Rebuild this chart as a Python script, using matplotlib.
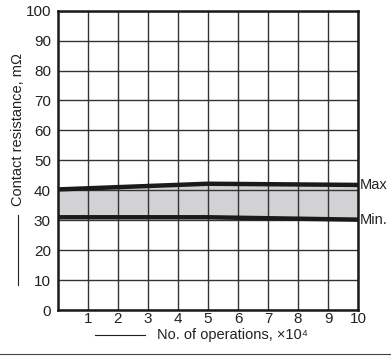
import numpy as np
import matplotlib.pyplot as plt
from matplotlib.lines import Line2D

plt.rcParams['font.family'] = ['Liberation Sans', 'DejaVu Sans']

# data
ops = [0, 5, 10]              # x 10^4 operations
r_max = [40.3, 42.2, 41.8]    # mOhm
r_min = [31.0, 31.0, 30.2]
x_ticks = list(range(1, 11))
y_ticks = list(range(0, 101, 10))

fig = plt.figure(figsize=(3.91, 3.56), dpi=100)
ax = fig.add_axes([0.148, 0.129, 0.768, 0.841])

ax.fill_between(ops, r_min, r_max, color='#d2d2d4', zorder=1, lw=0)
ax.set_xlim(0, 10)
ax.set_ylim(0, 100)
ax.set_xticks(x_ticks)
ax.set_yticks(y_ticks)
ax.grid(True, color='#333333', lw=1.0, zorder=2)
ax.set_axisbelow(False)
ax.plot(ops, r_max, color='#1a1a1a', lw=3.2, zorder=3, solid_capstyle='butt')
ax.plot(ops, r_min, color='#1a1a1a', lw=3.2, zorder=3, solid_capstyle='butt')

ax.tick_params(length=0, labelsize=11, colors='#222222')
ax.tick_params(axis='x', pad=1.5)
ax.tick_params(axis='y', pad=5)
for s in ax.spines.values():
    s.set_linewidth(1.8)
    s.set_color('#1a1a1a')
    s.set_zorder(4)

ax.text(10.05, r_max[-1], 'Max', fontsize=10.5, va='center', ha='left', color='#222222')
ax.text(10.05, r_min[-1], 'Min.', fontsize=10.5, va='center', ha='left', color='#222222')

# axis titles with their leading lines
fig.text(157 / 391, 1 - 335 / 356, 'No. of operations, \u00d710\u2074', fontsize=10.5,
         ha='left', va='center', color='#222222')
fig.add_artist(Line2D([95 / 391, 145 / 391], [1 - 335 / 356] * 2, color='#222222', lw=0.8))
fig.text(18 / 391, 1 - 130 / 356, 'Contact resistance, m\u03a9', fontsize=10.5, rotation=90,
         ha='center', va='center', color='#222222')
fig.add_artist(Line2D([18 / 391] * 2, [1 - 285 / 356, 1 - 215 / 356], color='#222222', lw=0.8))

# frame line at the bottom of the figure
fig.add_artist(Line2D([0, 1], [1 - 354 / 356] * 2, color='#444444', lw=0.8))

fig.savefig('out.png', dpi=100)
